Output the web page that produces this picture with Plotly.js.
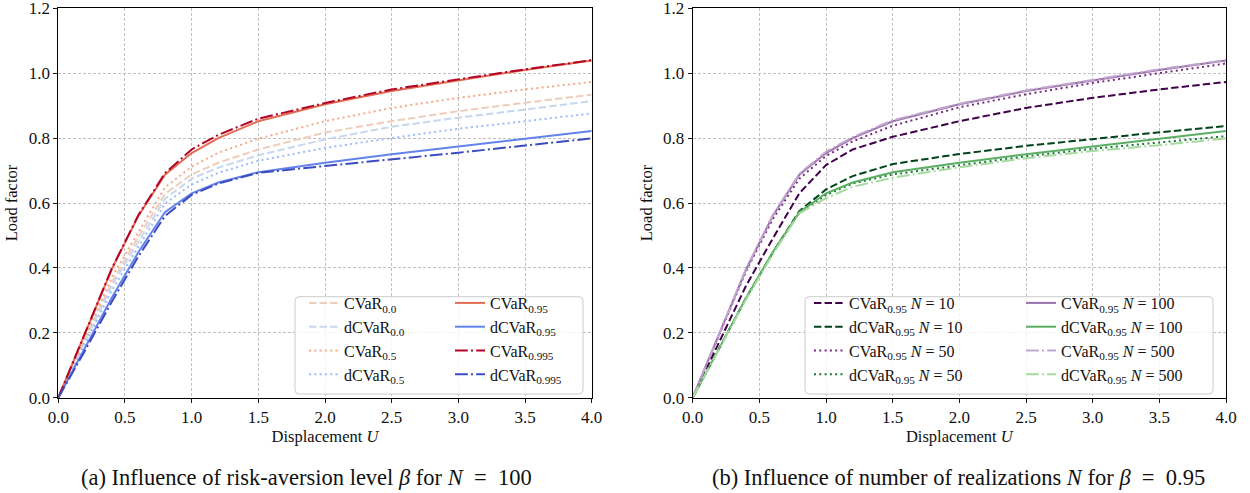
<!DOCTYPE html>
<html>
<head>
<meta charset="utf-8">
<script src="https://cdn.plot.ly/plotly-3.0.1.min.js"></script>
<style>html,body{margin:0;padding:0;background:#fff;}#chart{width:1250px;height:493px;}</style>
</head>
<body>
<div id="chart"></div>
<script>
// ---------- data ----------
const U = [0, 0.2, 0.4, 0.6, 0.8, 1.0, 1.2, 1.5, 2.0, 2.5, 3.0, 3.5, 4.0];

// (a) influence of beta, N = 100
const cvar_00   = [0, 0.180, 0.355, 0.495, 0.628, 0.688, 0.724, 0.765, 0.817, 0.852, 0.883, 0.909, 0.934];
const dcvar_00  = [0, 0.175, 0.345, 0.480, 0.613, 0.675, 0.709, 0.747, 0.796, 0.835, 0.863, 0.888, 0.914];
const cvar_05   = [0, 0.185, 0.370, 0.510, 0.648, 0.712, 0.755, 0.798, 0.852, 0.893, 0.924, 0.950, 0.973];
const dcvar_05  = [0, 0.165, 0.330, 0.465, 0.598, 0.657, 0.693, 0.730, 0.770, 0.800, 0.829, 0.852, 0.876];
const cvar_095  = [0, 0.200, 0.395, 0.560, 0.687, 0.754, 0.800, 0.852, 0.904, 0.945, 0.978, 1.010, 1.039];
const dcvar_095 = [0, 0.153, 0.307, 0.448, 0.572, 0.630, 0.663, 0.695, 0.724, 0.750, 0.775, 0.798, 0.822];
const cvar_0995 = [0, 0.200, 0.397, 0.562, 0.692, 0.765, 0.810, 0.860, 0.908, 0.950, 0.982, 1.012, 1.040];
const dcvar_0995= [0, 0.145, 0.295, 0.435, 0.560, 0.625, 0.660, 0.693, 0.714, 0.734, 0.755, 0.777, 0.799];

// (b) influence of N, beta = 0.95
const cvar_N10   = [0, 0.170, 0.345, 0.490, 0.630, 0.717, 0.765, 0.804, 0.852, 0.893, 0.924, 0.950, 0.973];
const dcvar_N10  = [0, 0.155, 0.307, 0.447, 0.575, 0.642, 0.683, 0.720, 0.751, 0.776, 0.798, 0.818, 0.837];
const cvar_N50   = [0, 0.195, 0.390, 0.550, 0.675, 0.745, 0.790, 0.838, 0.895, 0.935, 0.970, 1.000, 1.030];
const dcvar_N50  = [0, 0.153, 0.305, 0.445, 0.570, 0.625, 0.660, 0.688, 0.716, 0.744, 0.767, 0.787, 0.806];
const cvar_N100  = [0, 0.200, 0.395, 0.560, 0.687, 0.754, 0.800, 0.852, 0.904, 0.945, 0.978, 1.010, 1.039];
const dcvar_N100 = [0, 0.153, 0.307, 0.448, 0.572, 0.630, 0.663, 0.695, 0.724, 0.750, 0.775, 0.798, 0.822];
const cvar_N500  = [0, 0.200, 0.397, 0.562, 0.690, 0.758, 0.803, 0.855, 0.906, 0.947, 0.980, 1.012, 1.040];
const dcvar_N500 = [0, 0.152, 0.303, 0.442, 0.568, 0.615, 0.650, 0.678, 0.710, 0.738, 0.760, 0.778, 0.799];

const xTicks = [0, 0.5, 1, 1.5, 2, 2.5, 3, 3.5, 4];
const xTickText = ['0.0','0.5','1.0','1.5','2.0','2.5','3.0','3.5','4.0'];
const yTicks = [0, 0.2, 0.4, 0.6, 0.8, 1.0, 1.2];
const yTickText = ['0.0','0.2','0.4','0.6','0.8','1.0','1.2'];

const labelsA = ['CVaR<sub>0.0</sub>','dCVaR<sub>0.0</sub>','CVaR<sub>0.5</sub>','dCVaR<sub>0.5</sub>',
                 'CVaR<sub>0.95</sub>','dCVaR<sub>0.95</sub>','CVaR<sub>0.995</sub>','dCVaR<sub>0.995</sub>'];
const labelsB = ['CVaR<sub>0.95</sub> <i>N</i> = 10','dCVaR<sub>0.95</sub> <i>N</i> = 10',
                 'CVaR<sub>0.95</sub> <i>N</i> = 50','dCVaR<sub>0.95</sub> <i>N</i> = 50',
                 'CVaR<sub>0.95</sub> <i>N</i> = 100','dCVaR<sub>0.95</sub> <i>N</i> = 100',
                 'CVaR<sub>0.95</sub> <i>N</i> = 500','dCVaR<sub>0.95</sub> <i>N</i> = 500'];

// ---------- styles ----------
const W = 1250, H = 493;
const LW = 2;
const DASH = '7.4px,3.2px', DOT = '2px,3.3px', DASHDOT = '12.8px,3.2px,2px,3.2px';
const FONT = 'Liberation Serif, DejaVu Serif, serif';

function tr(y, name, color, dash, xa, ya, leg, grp) {
  return {x: U, y: y, type: 'scatter', mode: 'lines', name: name,
          line: {color: color, width: LW, dash: dash},
          xaxis: xa, yaxis: ya, legend: leg, legendgroup: grp, showlegend: true, hoverinfo: 'skip'};
}

const seriesA = [cvar_00, dcvar_00, cvar_05, dcvar_05, cvar_095, dcvar_095, cvar_0995, dcvar_0995];
const colorsA = ['#efcdbb','#c8d7f0','#f6a88a','#9bbcfe','#e36c55','#6383ea','#b40426','#3b4cc0'];
const dashesA = [DASH, DASH, DOT, DOT, 'solid', 'solid', DASHDOT, DASHDOT];

const seriesB = [cvar_N10, dcvar_N10, cvar_N50, dcvar_N50, cvar_N100, dcvar_N100, cvar_N500, dcvar_N500];
const colorsB = ['#40004b','#00441b','#762a83','#1b7837','#9970ab','#5aae61','#c2a5cf','#a6dba0'];
const dashesB = [DASH, DASH, DOT, DOT, 'solid', 'solid', DASHDOT, DASHDOT];

const traces = [];
seriesA.forEach((s, i) => traces.push(tr(s, labelsA[i], colorsA[i], dashesA[i], 'x', 'y', i < 4 ? 'legend' : 'legend2', 'a' + i)));
seriesB.forEach((s, i) => traces.push(tr(s, labelsB[i], colorsB[i], dashesB[i], 'x2', 'y2', i < 4 ? 'legend3' : 'legend4', 'b' + i)));

// plot area in pixels
const yTop = 8.3, yBot = 397.7;
const axA = [58.3, 591.7], axB = [692.7, 1226];
const px = v => v / W, py = v => 1 - v / H;

function xax(dom, anchor) {
  return {domain: [px(dom[0]), px(dom[1])], anchor: anchor, range: [0, 4],
    tickvals: xTicks, ticktext: xTickText, ticks: 'outside', ticklen: 4, tickwidth: 0.9, tickcolor: '#000',
    showline: true, linecolor: '#000', linewidth: 1, mirror: true,
    showgrid: true, gridcolor: '#b0b0b0', gridwidth: 0.8, griddash: '3px,2px',
    zeroline: false, tickfont: {family: FONT, size: 17, color: '#111'}, ticklabeloverflow: 'allow',
    title: {text: 'Displacement <i>U</i>', font: {family: FONT, size: 16.5, color: '#111'}, standoff: 3},
    automargin: false, fixedrange: true};
}
function yax(anchor) {
  return {domain: [py(yBot), py(yTop)], anchor: anchor, range: [0, 1.2],
    tickvals: yTicks, ticktext: yTickText, ticks: 'outside', ticklen: 4, tickwidth: 0.9, tickcolor: '#000',
    showline: true, linecolor: '#000', linewidth: 1, mirror: true,
    showgrid: true, gridcolor: '#b0b0b0', gridwidth: 0.8, griddash: '3px,2px',
    zeroline: false, tickfont: {family: FONT, size: 17, color: '#111'}, ticklabeloverflow: 'allow',
    title: {text: 'Load factor', font: {family: FONT, size: 16.5, color: '#111'}, standoff: 6},
    automargin: false, fixedrange: true};
}

function legendAt(leftPx, topPx) {
  return {x: px(leftPx), y: py(topPx), xanchor: 'left', yanchor: 'top', orientation: 'v',
    bgcolor: 'rgba(0,0,0,0)', borderwidth: 0, tracegroupgap: 0,
    font: {family: FONT, size: 16, color: '#111'}};
}

function roundRect(x0, y0, x1, y1, r) {
  const rx = r / W, ry = r / H;
  const X0 = px(x0), X1 = px(x1), Y0 = py(y0), Y1 = py(y1); // Y0 top, Y1 bottom
  return `M${X0 + rx},${Y0} L${X1 - rx},${Y0} Q${X1},${Y0} ${X1},${Y0 - ry} L${X1},${Y1 + ry} Q${X1},${Y1} ${X1 - rx},${Y1} L${X0 + rx},${Y1} Q${X0},${Y1} ${X0},${Y1 + ry} L${X0},${Y0 - ry} Q${X0},${Y0} ${X0 + rx},${Y0} Z`;
}

const layout = {
  width: W, height: H, margin: {l: 0, r: 0, t: 0, b: 0},
  paper_bgcolor: '#fff', plot_bgcolor: '#fff',
  font: {family: FONT, color: '#111'},
  xaxis: xax(axA, 'y'), yaxis: yax('x'),
  xaxis2: xax(axB, 'y2'), yaxis2: yax('x2'),
  legend: legendAt(304, 286), legend2: legendAt(450, 286),
  legend3: legendAt(809, 286), legend4: legendAt(1021, 286),
  shapes: [
    {type: 'path', xref: 'paper', yref: 'paper', layer: 'above', path: roundRect(295, 296.7, 583, 394, 4),
     fillcolor: 'rgba(255,255,255,0.8)', line: {color: '#cccccc', width: 1}},
    {type: 'path', xref: 'paper', yref: 'paper', layer: 'above', path: roundRect(805, 296.7, 1213, 394, 4),
     fillcolor: 'rgba(255,255,255,0.8)', line: {color: '#cccccc', width: 1}}
  ],
  annotations: [
    {text: '(a) Influence of risk-aversion level <i>β</i> for <i>N</i>  =  100', xref: 'paper', yref: 'paper',
     x: px(306), y: py(477), xanchor: 'center', yanchor: 'middle', showarrow: false,
     font: {family: FONT, size: 22.5, color: '#111'}},
    {text: '(b) Influence of number of realizations <i>N</i> for <i>β</i>  =  0.95', xref: 'paper', yref: 'paper',
     x: px(958), y: py(477), xanchor: 'center', yanchor: 'middle', showarrow: false,
     font: {family: FONT, size: 22.5, color: '#111'}}
  ]
};

Plotly.newPlot('chart', traces, layout, {staticPlot: true, displayModeBar: false});
</script>
</body>
</html>
